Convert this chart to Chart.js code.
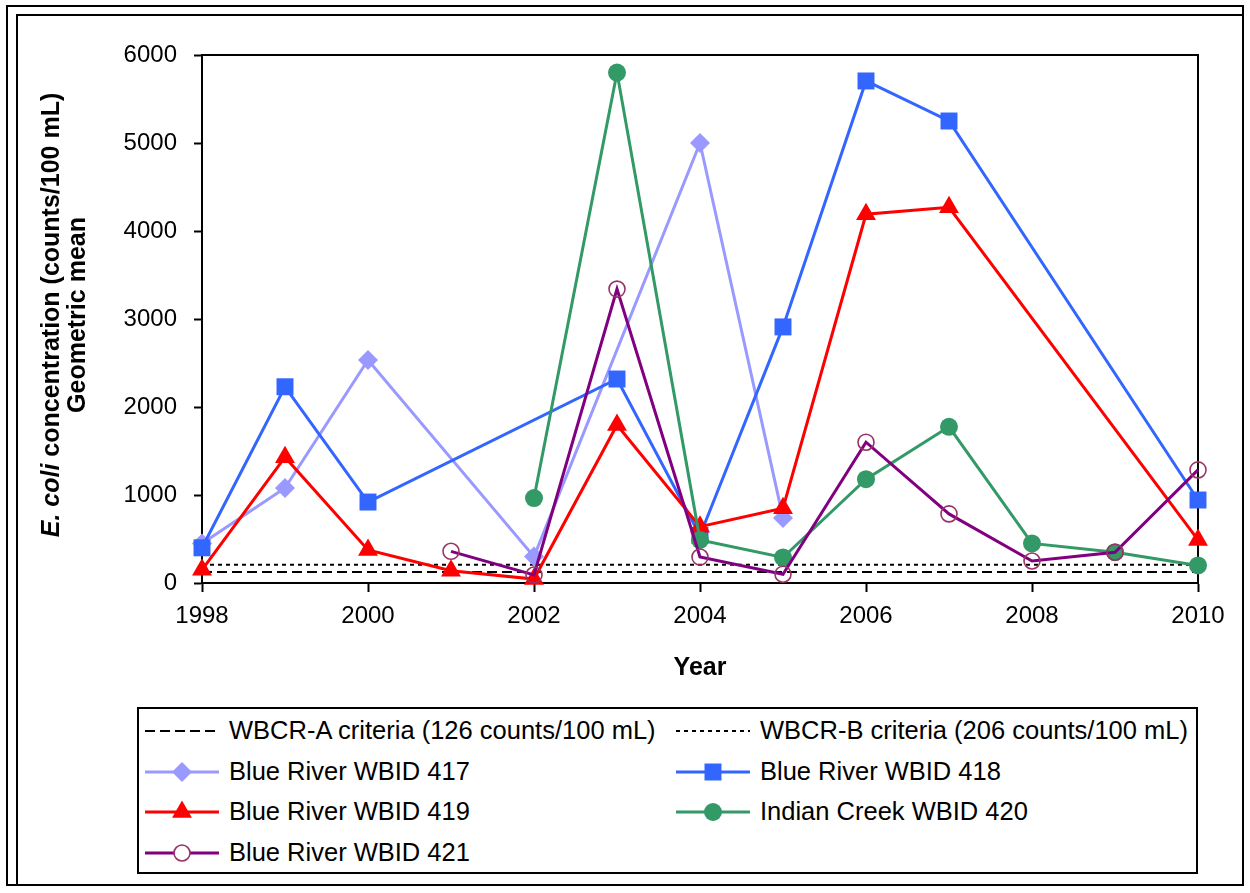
<!DOCTYPE html>
<html>
<head>
<meta charset="utf-8">
<script src="https://cdn.jsdelivr.net/npm/chart.js"></script>
<style>
    body { margin: 0; background: #fff; font-family: "Liberation Sans", Arial, sans-serif; }
    #wrap { position: relative; width: 1250px; height: 893px; overflow: hidden; }
    .frame { position: absolute; border: 2px solid #000; box-sizing: border-box; }
    #outer { left: 6px; top: 5px; width: 1238px; height: 881px; }
    #inner { left: 16px; top: 14px; width: 1228px; height: 872px; }
    #chart { position: absolute; left: 0; top: 0; }
    #legendBox { position: absolute; left: 137px; top: 707px; width: 1061px; height: 167px;
                 border: 2px solid #000; box-sizing: border-box; }
    .item { position: absolute; display: flex; align-items: center; height: 40px;
            font-size: 25.5px; line-height: 1; white-space: nowrap; color: #000; }
    .item svg { margin-right: 10px; flex: none; }
</style>
</head>
<body>
<div id="wrap">
    <div class="frame" id="outer"></div>
    <div class="frame" id="inner"></div>
    <canvas id="chart" width="1250" height="700"></canvas>
    <div id="legendBox"></div>
    <div id="legendItems"></div>
</div>
<script>
// Data (geometric mean, counts/100 mL)
const years   = [1998, 1999, 2000, 2001, 2002, 2003, 2004, 2005, 2006, 2007, 2008, 2009, 2010];
const wbid417 = [450, 1080, 2534, null, 300, null, 5000, 740, null, null, null, null, null];
const wbid418 = [400, 2230, 920, null, null, 2318, 540, 2910, 5705, 5250, null, null, 943];
const wbid419 = [150, 1430, 375, 140, 45, 1795, 640, 850, 4190, 4270, null, null, 490];
const wbid420 = [null, null, null, null, 965, 5800, 490, 290, 1180, 1775, 450, 350, 200];
const wbid421 = [null, null, null, 360, 91, 3340, 295, 100, 1600, 785, 250, 350, 1285];
const critA = 126;   // WBCR-A
const critB = 206;   // WBCR-B
const yTicks = [0, 1000, 2000, 3000, 4000, 5000, 6000];

const FONT = '"Liberation Sans", Arial, sans-serif';
Chart.defaults.font.family = FONT;
Chart.defaults.color = '#000';

// ─── Datasets ─────────────────────────────────────────────

function series(label, data, color, pointStyle, radius, order, extra) {
    return Object.assign({
        label, data, order,
        borderColor: color,
        backgroundColor: color,
        borderWidth: 3,
        pointStyle,
        pointRadius: radius,
        pointBackgroundColor: color,
        pointBorderColor: color,
        pointBorderWidth: 0,
        clip: false,
        tension: 0
    }, extra || {});
}

function criterion(label, value, dash, order) {
    return {
        label, order,
        data: years.map(() => value),
        borderColor: '#000',
        backgroundColor: '#000',
        borderWidth: 2,
        borderDash: dash,
        pointRadius: 0,
        clip: false
    };
}

const datasets = [
    criterion('WBCR-A criteria (126 counts/100 mL)', critA, [10, 5], 7),
    criterion('WBCR-B criteria (206 counts/100 mL)', critB, [4, 4], 6),
    series('Blue River WBID 417', wbid417, '#9999FF', 'rectRot', 10, 5),
    series('Blue River WBID 418', wbid418, '#3366FF', 'rect', 12, 4),
    series('Blue River WBID 419', wbid419, '#FF0000', 'triangle', 11.5, 3),
    series('Indian Creek WBID 420', wbid420, '#339966', 'circle', 9, 2),
    series('Blue River WBID 421', wbid421, '#800080', 'circle', 8, 1, {
        pointBackgroundColor: 'rgba(255,255,255,0)',
        pointBorderColor: '#993366',
        pointBorderWidth: 1.6
    })
];

// ─── Plugins ──────────────────────────────────────────────

// plot area frame (top + right edges; axes draw the others)
const frame = {
    id: 'frame',
    beforeDatasetsDraw(chart) {
        const { ctx, chartArea: a } = chart;
        ctx.save();
        ctx.strokeStyle = '#000';
        ctx.lineWidth = 2;
        ctx.beginPath();
        ctx.moveTo(a.left, a.top);
        ctx.lineTo(a.right, a.top);
        ctx.lineTo(a.right, a.bottom);
        ctx.stroke();
        ctx.restore();
    }
};

// y title with italic "E. coli"
const yTitle = {
    id: 'yTitle',
    afterDraw(chart) {
        const { ctx, chartArea: a } = chart;
        const cy = (a.top + a.bottom) / 2 - 4;
        const it = 'italic bold 25px ' + FONT;
        const bd = 'bold 25px ' + FONT;
        const p1 = 'E. coli', p2 = ' concentration (counts/100 mL)';
        ctx.save();
        ctx.translate(52, cy);
        ctx.rotate(-Math.PI / 2);
        ctx.fillStyle = '#000';
        ctx.textBaseline = 'middle';
        ctx.textAlign = 'left';
        ctx.font = it; const w1 = ctx.measureText(p1).width;
        ctx.font = bd; const w2 = ctx.measureText(p2).width;
        const x0 = -(w1 + w2) / 2;
        ctx.font = it; ctx.fillText(p1, x0, 0);
        ctx.font = bd; ctx.fillText(p2, x0 + w1, 0);
        ctx.textAlign = 'center';
        ctx.fillText('Geometric mean', 0, 26);
        ctx.restore();
    }
};

// ─── Chart ────────────────────────────────────────────────

const axisGrid = len => ({
    drawOnChartArea: false, drawTicks: true, tickLength: len,
    tickColor: '#000', tickWidth: 2, color: '#000'
});

const chart = new Chart(document.getElementById('chart'), {
    type: 'line',
    data: { labels: years, datasets },
    options: {
        responsive: false,
        animation: false,
        spanGaps: true,
        layout: { padding: { top: 55, right: 52, left: 0, bottom: 0 } },
        plugins: { legend: { display: false }, tooltip: { enabled: false } },
        scales: {
            x: {
                type: 'linear', min: 1998, max: 2010,
                grid: axisGrid(9),
                border: { color: '#000', width: 2 },
                ticks: { stepSize: 2, padding: 10, color: '#000', font: { size: 24 }, callback: v => String(v) },
                title: { display: true, text: 'Year', color: '#000',
                         font: { size: 25, weight: 'bold' }, padding: { top: 0, bottom: 17 } },
                afterFit: s => { s.height = 117; }
            },
            y: {
                min: 0, max: 6000,
                afterBuildTicks: s => { s.ticks = yTicks.map(v => ({ value: v })); },
                grid: axisGrid(8),
                border: { color: '#000', width: 2 },
                ticks: { padding: 17, color: '#000', font: { size: 24 }, callback: v => String(v) },
                afterFit: s => { s.width = 202; }
            }
        }
    },
    plugins: [frame, yTitle]
});

// ─── Legend (html, two columns) ───────────────────────────

function sampleSvg(ds) {
    const w = 74, h = 40, cx = 37, cy = 20;
    const dash = ds.borderDash ? `stroke-dasharray="${ds.borderDash.join(',')}"` : '';
    let s = `<svg width="${w}" height="${h}" viewBox="0 0 ${w} ${h}">` +
            `<line x1="0" y1="${cy}" x2="${w}" y2="${cy}" stroke="${ds.borderColor}" stroke-width="${ds.borderWidth}" ${dash}/>`;
    const r = ds.pointRadius, f = ds.pointBackgroundColor, c = ds.pointBorderColor;
    if (r) {
        if (ds.pointStyle === 'rectRot') {
            s += `<polygon points="${cx},${cy - r} ${cx + r},${cy} ${cx},${cy + r} ${cx - r},${cy}" fill="${f}"/>`;
        } else if (ds.pointStyle === 'rect') {
            const hs = r * Math.SQRT1_2;
            s += `<rect x="${cx - hs}" y="${cy - hs}" width="${2 * hs}" height="${2 * hs}" fill="${f}"/>`;
        } else if (ds.pointStyle === 'triangle') {
            const dx = r * Math.sqrt(3) / 2;
            s += `<polygon points="${cx},${cy - r} ${cx + dx},${cy + r / 2} ${cx - dx},${cy + r / 2}" fill="${f}"/>`;
        } else if (ds.pointBorderWidth) {
            s += `<circle cx="${cx}" cy="${cy}" r="${r}" fill="#fff" stroke="${c}" stroke-width="${ds.pointBorderWidth}"/>`;
        } else {
            s += `<circle cx="${cx}" cy="${cy}" r="${r}" fill="${f}"/>`;
        }
    }
    return s + '</svg>';
}

const colX = [145, 676];
const rowY = [731, 772, 812, 853];
const holder = document.getElementById('legendItems');
datasets.forEach((ds, i) => {
    const el = document.createElement('div');
    el.className = 'item';
    el.style.left = colX[i % 2] + 'px';
    el.style.top = (rowY[Math.floor(i / 2)] - 20) + 'px';
    el.innerHTML = sampleSvg(ds) + `<span>${ds.label}</span>`;
    holder.appendChild(el);
});
</script>
</body>
</html>
